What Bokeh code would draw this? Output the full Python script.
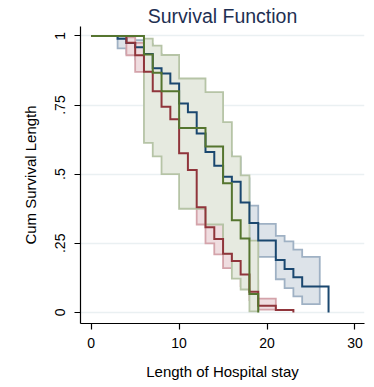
from bokeh.plotting import figure
from bokeh.models import Range1d, FixedTicker
from bokeh.embed import file_html
from bokeh.resources import INLINE

# ---------------- data ----------------
x_ticks = [0, 10, 20, 30]
y_ticks = [0, 0.25, 0.5, 0.75, 1]
y_tick_labels = ["0", ".25", ".5", ".75", "1"]

# group 1 (blue)
t_blue = [0, 3, 4, 5, 6, 7, 8, 9, 10, 11, 12, 13, 14, 15, 16, 17, 18, 19, 21, 22, 23, 24, 27]
s_blue = [1, 0.99, 0.974, 0.959, 0.935, 0.883, 0.864, 0.828, 0.756, 0.724, 0.647, 0.58,
          0.53, 0.491, 0.473, 0.398, 0.323, 0.26, 0.19, 0.157, 0.127, 0.094, 0]
ci_t_blue = [3, 4, 5, 6, 7, 8, 9, 10, 11, 12, 13, 14, 15, 16, 17, 18, 19, 21, 22, 23, 24]
ci_end_blue = 26
ci_hi_blue = [0.998, 0.992, 0.985, 0.97, 0.935, 0.92, 0.89, 0.825, 0.795, 0.725, 0.665,
              0.615, 0.58, 0.56, 0.485, 0.386, 0.32, 0.277, 0.257, 0.227, 0.201]
ci_lo_blue = [0.955, 0.935, 0.915, 0.885, 0.82, 0.795, 0.755, 0.675, 0.64, 0.56, 0.49,
              0.44, 0.40, 0.38, 0.31, 0.25, 0.201, 0.12, 0.088, 0.058, 0.03]

# group 2 (red)
t_red = [0, 4, 5, 6, 7, 8, 9, 10, 11, 12, 13, 14, 15, 16, 17, 18, 19, 21, 23]
s_red = [1, 0.975, 0.93, 0.87, 0.80, 0.744, 0.699, 0.576, 0.515, 0.380, 0.308, 0.266,
         0.212, 0.186, 0.137, 0.075, 0.024, 0.009, 0]
ci_t_red = [4, 5, 6, 7, 8, 9, 10, 11, 12, 13, 14, 15, 16, 17, 18, 19]
ci_end_red = 21
ci_hi_red = [0.995, 0.975, 0.925, 0.86, 0.805, 0.76, 0.64, 0.58, 0.445, 0.37, 0.325,
             0.27, 0.24, 0.185, 0.115, 0.05]
ci_lo_red = [0.93, 0.87, 0.81, 0.735, 0.675, 0.63, 0.51, 0.45, 0.318, 0.25, 0.21,
             0.16, 0.135, 0.095, 0.045, 0.01]

# group 3 (green)
t_green = [0, 6, 7, 8, 10, 13, 15, 16, 17, 18, 19]
s_green = [1, 0.933, 0.867, 0.8, 0.667, 0.6, 0.467, 0.333, 0.267, 0.067, 0]
ci_t_green = [6, 7, 8, 10, 13, 15, 16, 17, 18]
ci_end_green = 19
ci_hi_green = [0.990, 0.965, 0.931, 0.846, 0.797, 0.688, 0.564, 0.496, 0.260]
ci_lo_green = [0.613, 0.564, 0.500, 0.375, 0.318, 0.212, 0.122, 0.083, 0.004]

# ---------------- styles ----------------
FONT = "Liberation Sans"
col_blue, col_red, col_green = "#1a476f", "#90353b", "#55752f"
fill_blue, fill_red, fill_green = "#dde3e9", "#efdde0", "#e6eae0"
edge_blue, edge_red, edge_green = "#9fb1c4", "#d4a3aa", "#b6c4a6"


def band_polygon(t, lo, hi, end):
    edges = list(t[1:]) + [end]
    xs, ys = [], []
    for a, b, h in zip(t, edges, hi):
        xs += [a, b]
        ys += [h, h]
    for a, b, l in reversed(list(zip(t, edges, lo))):
        xs += [b, a]
        ys += [l, l]
    return xs, ys


p = figure(width=374, height=387, output_backend="svg", toolbar_location=None,
           x_range=Range1d(-1.22, 31.09), y_range=Range1d(-0.040, 1.034),
           min_border_left=80, min_border_right=10, min_border_top=26, min_border_bottom=64,
           title="Survival Function")
p.outline_line_color = None
p.background_fill_color = "white"
p.border_fill_color = "white"

p.title.text_font = FONT
p.title.text_font_size = "19.5px"
p.title.text_font_style = "normal"
p.title.text_color = "#1e2f52"
p.title.align = "center"
p.title.standoff = 0

# bands
for t, lo, hi, end, fc, ec in [
    (ci_t_blue, ci_lo_blue, ci_hi_blue, ci_end_blue, fill_blue, edge_blue),
    (ci_t_red, ci_lo_red, ci_hi_red, ci_end_red, fill_red, edge_red),
    (ci_t_green, ci_lo_green, ci_hi_green, ci_end_green, fill_green, edge_green),
]:
    xs, ys = band_polygon(t, lo, hi, end)
    p.patch(xs, ys, fill_color=fc, line_color=ec, line_width=1.8, line_join="miter")

# survival step lines
for t, s, c in [(t_blue, s_blue, col_blue), (t_red, s_red, col_red), (t_green, s_green, col_green)]:
    p.step(t, s, mode="after", line_color=c, line_width=2, line_join="miter")

# axes
p.xaxis.ticker = FixedTicker(ticks=x_ticks)
p.yaxis.ticker = FixedTicker(ticks=y_ticks)
p.yaxis.major_label_overrides = {v: l for v, l in zip(y_ticks, y_tick_labels)}
p.yaxis.major_label_orientation = "vertical"
p.xaxis.axis_label = "Length of Hospital stay"
p.yaxis.axis_label = "Cum Survival Length"
for ax in (p.xaxis, p.yaxis):
    ax.axis_line_color = "black"
    ax.axis_line_width = 1.2
    ax.major_tick_line_color = "black"
    ax.major_tick_line_width = 1.2
    ax.major_tick_in = 0
    ax.major_tick_out = 6
    ax.minor_tick_line_color = None
    ax.major_label_text_font = FONT
    ax.major_label_text_font_size = "14px"
    ax.major_label_text_color = "black"
    ax.axis_label_text_font = FONT
    ax.axis_label_text_font_size = "15px"
    ax.axis_label_text_font_style = "normal"
    ax.axis_label_text_color = "black"
p.xaxis.major_label_standoff = 8
p.xaxis.axis_label_standoff = 12
p.yaxis.major_label_standoff = 9
p.yaxis.axis_label_standoff = 14

p.xgrid.grid_line_color = None
p.ygrid.grid_line_color = "#eaf0f2"
p.ygrid.grid_line_width = 1.5

open("out.html", "w").write(file_html(p, INLINE))
